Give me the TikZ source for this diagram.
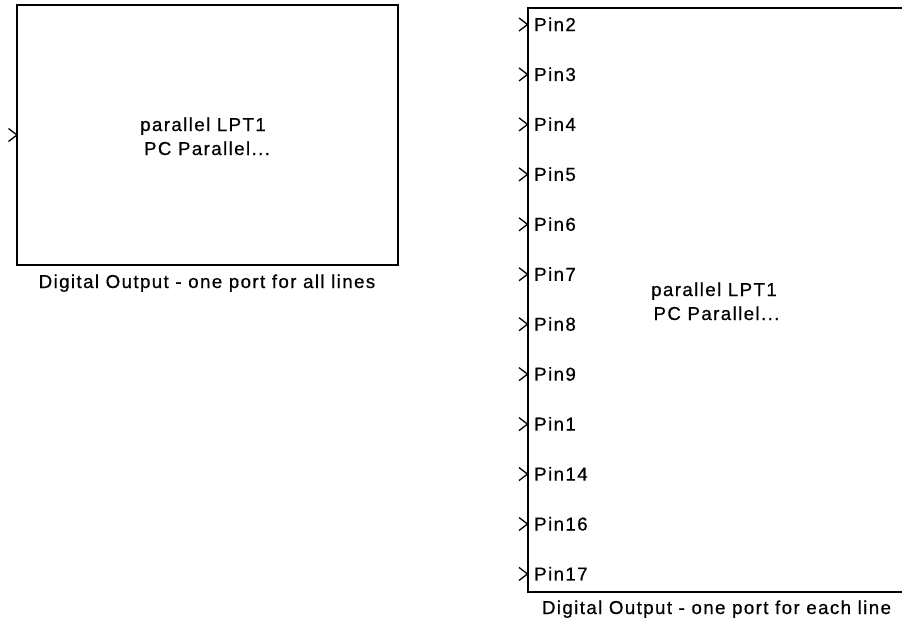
\documentclass[tikz,border=0pt]{standalone}
\usepackage{fontspec}
\setmainfont{Liberation Sans}[LetterSpace=7.5,FakeBold=0.6]
\begin{document}
\begin{tikzpicture}[x=1pt,y=-1pt,
  blk/.style={draw=black, line width=2pt, inner sep=0pt, outer sep=0pt, anchor=north west},
  portmark/.style={draw=black, line width=1.3pt, line join=miter},
  txt/.style={inner sep=0pt, anchor=base, font=\fontsize{18.7}{22}\selectfont},
  pinlbl/.style={inner sep=0pt, anchor=base west, font=\fontsize{18.7}{22}\selectfont}]
\useasboundingbox (0,0) rectangle (902,621);
% left block
\node[blk, minimum width=381pt, minimum height=260pt] (blkA) at (17,5) {};
\coordinate (inA) at (17,135);
\draw[portmark] (inA) ++(-8.5,-6.5) -- (inA) -- ++(-8.5,6.5);
\node[txt] (a1) at (203,131) {parallel LPT1};
\node[txt] (a2) at (207,155) {PC Parallel...};
\node[txt] (capA) at (207,288) {Digital Output - one port for all lines};
% right block
\node[blk, minimum width=380pt, minimum height=584pt] (blkB) at (527.5,8) {};
\foreach \n [count=\i from 0] in {2,3,4,5,6,7,8,9,1,14,16,17} {
  \coordinate (pin\n) at (527.5,{24.5+49.95*\i});
  \draw[portmark] (pin\n) ++(-8.5,-6.5) -- (pin\n) -- ++(-8.5,6.5);
  \node[pinlbl] (lbl\n) at (534,{31+49.95*\i}) {Pin\n};
}
\node[txt] (b1) at (714,296) {parallel LPT1};
\node[txt] (b2) at (716.5,320) {PC Parallel...};
\node[txt] (capB) at (716.5,614) {Digital Output - one port for each line};
\end{tikzpicture}
\end{document}
